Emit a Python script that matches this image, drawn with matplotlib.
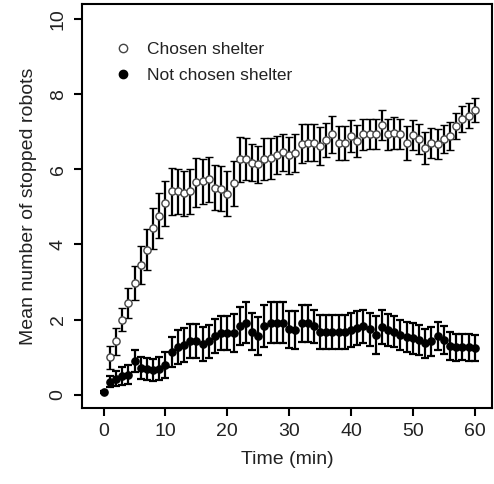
import numpy as np
import matplotlib
matplotlib.use("Agg")
import matplotlib.pyplot as plt
from matplotlib.lines import Line2D

plt.rcParams['font.family'] = ['Liberation Sans', 'DejaVu Sans']

time = np.arange(0, 61)

chosen = [0.05, 1.0, 1.42, 2.0, 2.45, 2.97, 3.46, 3.86, 4.43, 4.76,
          5.1, 5.41, 5.41, 5.36, 5.41, 5.66, 5.68, 5.73, 5.51, 5.48,
          5.35, 5.63, 6.27, 6.27, 6.18, 6.13, 6.27, 6.29, 6.38, 6.45,
          6.37, 6.43, 6.68, 6.71, 6.71, 6.62, 6.78, 6.93, 6.69, 6.69,
          6.89, 6.76, 6.93, 6.93, 6.93, 7.18, 6.93, 6.96, 6.93, 6.71,
          6.91, 6.81, 6.56, 6.69, 6.68, 6.80, 6.89, 7.15, 7.33, 7.42,
          7.58]
chosen_err = [0.0, 0.3, 0.35, 0.3, 0.4, 0.45, 0.5, 0.55, 0.55, 0.6,
              0.6, 0.62, 0.6, 0.6, 0.6, 0.65, 0.6, 0.6, 0.6, 0.6,
              0.6, 0.6, 0.6, 0.55, 0.5, 0.5, 0.55, 0.55, 0.5, 0.5,
              0.5, 0.5, 0.52, 0.5, 0.5, 0.5, 0.45, 0.5, 0.45, 0.45,
              0.42, 0.42, 0.42, 0.4, 0.4, 0.4, 0.42, 0.42, 0.4, 0.45,
              0.4, 0.4, 0.42, 0.4, 0.4, 0.38, 0.38, 0.35, 0.35, 0.33,
              0.32]

not_chosen = [0.07, 0.35, 0.43, 0.5, 0.54, 0.9, 0.71, 0.69, 0.66, 0.7,
              0.8, 1.15, 1.28, 1.33, 1.43, 1.43, 1.35, 1.42, 1.56, 1.64,
              1.64, 1.65, 1.83, 1.92, 1.68, 1.56, 1.83, 1.92, 1.92, 1.92,
              1.74, 1.73, 1.9, 1.9, 1.82, 1.68, 1.68, 1.68, 1.68, 1.68,
              1.73, 1.77, 1.82, 1.74, 1.6, 1.8, 1.73, 1.68, 1.6, 1.53,
              1.5, 1.46, 1.37, 1.42, 1.57, 1.46, 1.3, 1.26, 1.28, 1.26,
              1.24]
not_chosen_err = [0.03, 0.15, 0.2, 0.25, 0.25, 0.3, 0.3, 0.3, 0.3, 0.3,
                  0.35, 0.4, 0.45, 0.45, 0.45, 0.45, 0.45, 0.45, 0.45, 0.45,
                  0.45, 0.5, 0.5, 0.55, 0.5, 0.5, 0.55, 0.55, 0.55, 0.55,
                  0.5, 0.5, 0.5, 0.5, 0.45, 0.45, 0.45, 0.45, 0.45, 0.45,
                  0.45, 0.45, 0.45, 0.45, 0.5, 0.45, 0.42, 0.42, 0.4, 0.4,
                  0.4, 0.4, 0.38, 0.38, 0.38, 0.36, 0.36, 0.35, 0.35, 0.35,
                  0.35]

labels = ['Chosen shelter', 'Not chosen shelter']

fig = plt.figure(figsize=(4.94, 4.84), dpi=100)
ax = fig.add_axes([0.166, 0.157, 0.830, 0.835])

ax.errorbar(time[1:], chosen[1:], yerr=chosen_err[1:], fmt='o', color='black',
            ecolor='black', elinewidth=1.6, capsize=2.8, capthick=1.6,
            markersize=5.2, markerfacecolor='white', markeredgecolor='#444444',
            markeredgewidth=1.0, zorder=3)
ax.errorbar(time, not_chosen, yerr=not_chosen_err, fmt='o', color='black',
            ecolor='black', elinewidth=1.6, capsize=2.8, capthick=1.6,
            markersize=5.2, markerfacecolor='black', markeredgecolor='black',
            zorder=4)

ax.set_xlim(-3.5, 62.8)
ax.set_ylim(-0.35, 10.4)
ax.set_xticks([0, 10, 20, 30, 40, 50, 60])
ax.set_yticks([0, 2, 4, 6, 8, 10])
ax.tick_params(direction='out', length=6, width=1.5, labelsize=14, pad=5,
               labelcolor='#222222')
for lab in ax.get_yticklabels():
    lab.set_rotation(90)
    lab.set_va('center')
for s in ax.spines.values():
    s.set_linewidth(1.5)

ax.set_xlabel('Time (min)', fontsize=14, labelpad=8, color='#222222')
ax.set_ylabel('Mean number of stopped robots', fontsize=14, labelpad=9,
              color='#222222')

h1 = Line2D([], [], marker='o', linestyle='none', markersize=6,
            markerfacecolor='white', markeredgecolor='#444444')
h2 = Line2D([], [], marker='o', linestyle='none', markersize=6,
            markerfacecolor='black', markeredgecolor='black')
leg = ax.legend([h1, h2], labels, loc='upper left', bbox_to_anchor=(0.04, 0.945),
                frameon=False, fontsize=12.5, handletextpad=0.9,
                labelspacing=0.65, handlelength=1.0)
for t in leg.get_texts():
    t.set_color('#222222')

fig.savefig('out.png', dpi=100)
